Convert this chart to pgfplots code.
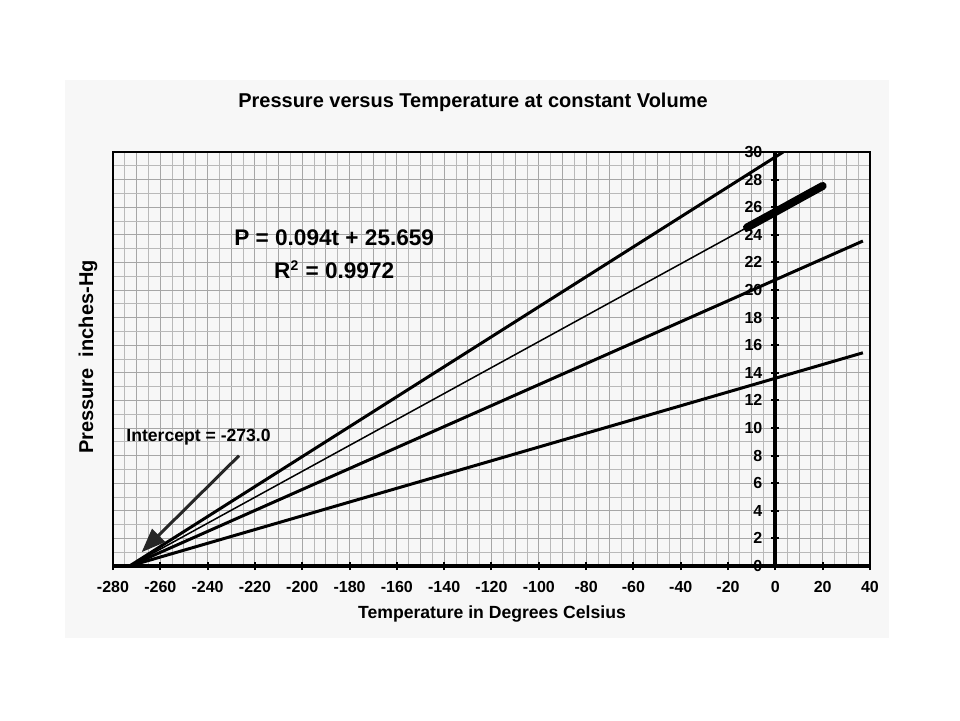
\documentclass[border=0pt]{standalone}
\usepackage{pgfplots}
\pgfplotsset{compat=1.18}
\usepackage{fontspec}
\setmainfont{Liberation Sans}
\usetikzlibrary{arrows.meta}

\begin{document}
\begin{tikzpicture}
% page and light panel (1 px = 0.5pt)
\path[use as bounding box, fill=white] (-56.5pt,-77pt) rectangle (423.5pt,283pt);
\fill[black!3] (-24pt,-36pt) rectangle (388pt,243pt);

% grid and frame
\begin{axis}[
    at={(0,0)}, anchor=south west,
    scale only axis, width=378.5pt, height=207pt,
    xmin=-280, xmax=40, ymin=0, ymax=30,
    xtick={-280,-270,...,40}, minor x tick num=1,
    ytick={0,2,...,30}, minor y tick num=1,
    xticklabels={}, yticklabels={},
    major tick length=0pt, minor tick length=0pt,
    grid=both,
    major grid style={gray!70, line width=0.5pt},
    minor grid style={gray!55, line width=0.4pt},
    axis line style={black, line width=1pt},
]
\end{axis}

% axes through the origin, ticks, labels and data
\begin{axis}[
    at={(0,0)}, anchor=south west,
    scale only axis, width=378.5pt, height=207pt,
    xmin=-280, xmax=40, ymin=0, ymax=30,
    axis x line=bottom, axis y line=middle,
    axis line style={-, line width=2pt},
    xtick={-280,-260,...,40}, ytick={0,2,...,30},
    hide obscured x ticks=false, hide obscured y ticks=false,
    major tick length=4pt,
    tick style={black, line width=1pt},
    ticklabel style={font=\fontsize{8}{9}\selectfont\bfseries},
    /pgf/number format/assume math mode=true,
    xticklabel style={yshift=-2pt},
    yticklabel style={xshift=-1pt},
    clip=true,
]
\addplot[black, line width=1.5pt] coordinates {(-273,0) (3.3,30)};
\addplot[black, line width=0.75pt] coordinates {(-273,0) (-12,24.53)};
\addplot[black, line width=1.5pt] coordinates {(-273,0) (37,23.55)};
\addplot[black, line width=1.5pt] coordinates {(-273,0) (37,15.45)};
\addplot[black, line width=4pt, line cap=round] coordinates {(-12,24.53) (-4,25.28) (4,26.03) (12,26.79) (20,27.54)};

\draw[black!85, line width=1.5pt, -{Triangle[length=12pt, width=9pt]}]
    (axis cs:-226.7,8.0) -- (axis cs:-267.9,1.0);
\node[anchor=west, inner sep=0pt, font=\fontsize{8.8}{10}\selectfont\bfseries]
    at (axis cs:-274.5,9.3) {Intercept = -273.0};
\node[font=\fontsize{11.3}{13}\selectfont\bfseries, inner sep=0pt]
    at (axis cs:-186.5,23.8) {P = 0.094t + 25.659};
\node[font=\fontsize{11.3}{13}\selectfont\bfseries, inner sep=0pt]
    at (axis cs:-186.5,21.5) {R\textsuperscript{\scriptsize 2} = 0.9972};
\end{axis}

\node[font=\fontsize{10}{12}\selectfont\bfseries] at (180pt,232pt)
    {Pressure versus Temperature at constant Volume};
\node[font=\fontsize{8.8}{10}\selectfont\bfseries] at (189.5pt,-24pt)
    {Temperature in Degrees Celsius};
\node[font=\fontsize{10}{12}\selectfont\bfseries, rotate=90] at (-12.5pt,104.5pt)
    {Pressure\ \ inches-Hg};
\end{tikzpicture}
\end{document}
